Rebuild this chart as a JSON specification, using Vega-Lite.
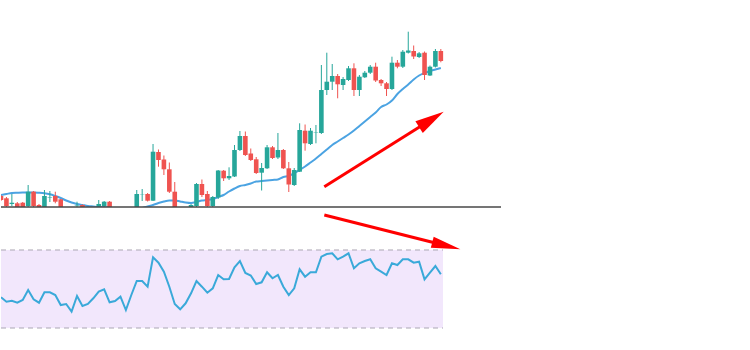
{
  "$schema": "https://vega.github.io/schema/vega-lite/v6.json",
  "padding": 0,
  "background": "white",
  "spacing": 0,
  "bounds": "flush",
  "config": {"view": {"stroke": null}},
  "resolve": {"scale": {"x": "independent", "y": "independent"}},
  "datasets": {
    "bars": [
      {"i":0,"open":105.5,"high":106,"low":103,"close":103.5,"ma":106,"rsi":45.74},
      {"i":1,"open":104.35,"high":105,"low":100,"close":100.5,"ma":106.5,"rsi":43.49},
      {"i":2,"open":101.5,"high":106.5,"low":100.5,"close":102.15,"ma":107,"rsi":44.0},
      {"i":3,"open":101.85,"high":102.5,"low":98.5,"close":99.5,"ma":107.15,"rsi":42.97},
      {"i":4,"open":102.15,"high":102.5,"low":99,"close":100,"ma":107.25,"rsi":44.36},
      {"i":5,"open":100.5,"high":111,"low":100,"close":107.65,"ma":107.25,"rsi":49.49},
      {"i":6,"open":107.65,"high":108,"low":100,"close":100.5,"ma":107.25,"rsi":44.72},
      {"i":7,"open":101,"high":101.5,"low":98.5,"close":99.5,"ma":107.1,"rsi":42.97},
      {"i":8,"open":100,"high":108.5,"low":99.5,"close":105.5,"ma":106.85,"rsi":48.31},
      {"i":9,"open":104.75,"high":108,"low":102.5,"close":105,"ma":106.35,"rsi":48.31},
      {"i":10,"open":105.5,"high":107.65,"low":101.85,"close":102.65,"ma":105.5,"rsi":46.92},
      {"i":11,"open":103.85,"high":104,"low":98.5,"close":99.5,"ma":104.5,"rsi":41.79},
      {"i":12,"open":99,"high":99.5,"low":96.5,"close":97.5,"ma":103.25,"rsi":42.31},
      {"i":13,"open":97,"high":99,"low":96,"close":98.5,"ma":102.25,"rsi":38.36},
      {"i":14,"open":100.5,"high":102.65,"low":99,"close":100.75,"ma":101.5,"rsi":46.41},
      {"i":15,"open":101,"high":101.25,"low":98.5,"close":99.5,"ma":101,"rsi":41.28},
      {"i":16,"open":99.5,"high":99.75,"low":97,"close":98,"ma":100.5,"rsi":42.31},
      {"i":17,"open":97.5,"high":99.5,"low":97,"close":99,"ma":100.25,"rsi":45.23},
      {"i":18,"open":100.15,"high":103.5,"low":99.5,"close":101.5,"ma":100,"rsi":48.62},
      {"i":19,"open":100.5,"high":103,"low":99.75,"close":102.65,"ma":100,"rsi":49.85},
      {"i":20,"open":102.65,"high":103,"low":98.5,"close":99.5,"ma":99.75,"rsi":43.18},
      {"i":21,"open":99.5,"high":99.75,"low":96.5,"close":97.5,"ma":99.25,"rsi":43.85},
      {"i":22,"open":97,"high":99.5,"low":96,"close":98.75,"ma":98.75,"rsi":46.05},
      {"i":23,"open":98.5,"high":99.5,"low":96,"close":97,"ma":98.5,"rsi":39.23},
      {"i":24,"open":97,"high":99.75,"low":96.5,"close":99.5,"ma":98.5,"rsi":46.92},
      {"i":25,"open":99.5,"high":108.5,"low":99,"close":106.5,"ma":99,"rsi":54.1},
      {"i":26,"open":106.35,"high":109,"low":103,"close":106.5,"ma":99.5,"rsi":54.1},
      {"i":27,"open":106.5,"high":107,"low":102.75,"close":103.15,"ma":100.25,"rsi":51.18},
      {"i":28,"open":103.15,"high":131.5,"low":103,"close":127.65,"ma":101,"rsi":66.26},
      {"i":29,"open":127.5,"high":128.75,"low":120.15,"close":123.5,"ma":102,"rsi":63.49},
      {"i":30,"open":123.75,"high":125.75,"low":116,"close":118.85,"ma":102.75,"rsi":58.87},
      {"i":31,"open":118.85,"high":122.25,"low":107,"close":107.65,"ma":103.25,"rsi":51.18},
      {"i":32,"open":107.65,"high":112.5,"low":96.5,"close":97.5,"ma":103.25,"rsi":42.31},
      {"i":33,"open":97.5,"high":99,"low":95.5,"close":96.5,"ma":102.75,"rsi":39.59},
      {"i":34,"open":96.5,"high":99.5,"low":96,"close":98.5,"ma":102.25,"rsi":42.67},
      {"i":35,"open":99.5,"high":101.5,"low":99,"close":101,"ma":102,"rsi":47.79},
      {"i":36,"open":100.5,"high":112,"low":99.5,"close":111.5,"ma":102.5,"rsi":54.1},
      {"i":37,"open":111.5,"high":113.75,"low":105,"close":106,"ma":103.25,"rsi":51.18},
      {"i":38,"open":106.5,"high":108,"low":100,"close":100.5,"ma":103.5,"rsi":48.1},
      {"i":39,"open":100.5,"high":105.5,"low":99.75,"close":105,"ma":104,"rsi":50.36},
      {"i":40,"open":104.75,"high":118.5,"low":104,"close":118.25,"ma":105,"rsi":57.18},
      {"i":41,"open":118.15,"high":118.5,"low":113,"close":114.35,"ma":106,"rsi":54.97},
      {"i":42,"open":114.35,"high":119.85,"low":113.5,"close":115.5,"ma":107.75,"rsi":55.13},
      {"i":43,"open":115.25,"high":131,"low":115,"close":128.5,"ma":109.25,"rsi":61.13},
      {"i":44,"open":128.5,"high":138,"low":128,"close":135.5,"ma":110.5,"rsi":64.36},
      {"i":45,"open":135.5,"high":137.75,"low":125.5,"close":126,"ma":111,"rsi":58.21},
      {"i":46,"open":126.75,"high":129.25,"low":123,"close":123.5,"ma":111.75,"rsi":56.92},
      {"i":47,"open":123.85,"high":125,"low":116.5,"close":117,"ma":112.75,"rsi":52.56},
      {"i":48,"open":117.15,"high":122,"low":108.25,"close":119.5,"ma":113,"rsi":53.44},
      {"i":49,"open":119.35,"high":131,"low":119,"close":129.85,"ma":113.25,"rsi":58.56},
      {"i":50,"open":129.85,"high":130.5,"low":124,"close":124.5,"ma":113.5,"rsi":55.49},
      {"i":51,"open":124.75,"high":137,"low":124,"close":128.5,"ma":113.75,"rsi":57.18},
      {"i":52,"open":128.5,"high":129,"low":119,"close":119.35,"ma":115,"rsi":51.18},
      {"i":53,"open":119.35,"high":122.5,"low":107.5,"close":111.25,"ma":115.5,"rsi":46.92},
      {"i":54,"open":111,"high":119.5,"low":110.5,"close":118.5,"ma":117,"rsi":50.36},
      {"i":55,"open":117.65,"high":141.85,"low":117.5,"close":138.5,"ma":118.5,"rsi":60.1},
      {"i":56,"open":138.15,"high":141.25,"low":128.15,"close":131.85,"ma":120.25,"rsi":56.31},
      {"i":57,"open":131.5,"high":139.5,"low":131,"close":138.15,"ma":122.25,"rsi":58.56},
      {"i":58,"open":137.15,"high":141,"low":131.85,"close":137.35,"ma":124.25,"rsi":58.56},
      {"i":59,"open":137,"high":171,"low":136.5,"close":158.5,"ma":126.5,"rsi":66.56},
      {"i":60,"open":158.5,"high":177.15,"low":156,"close":162.65,"ma":128.75,"rsi":67.95},
      {"i":61,"open":162.65,"high":171.5,"low":158.5,"close":165.5,"ma":131,"rsi":68.31},
      {"i":62,"open":165.5,"high":166.5,"low":154.35,"close":161.35,"ma":132.75,"rsi":65.23},
      {"i":63,"open":161,"high":165,"low":158.5,"close":164,"ma":134.5,"rsi":66.56},
      {"i":64,"open":163.5,"high":170.5,"low":163,"close":169.35,"ma":136.25,"rsi":68.31},
      {"i":65,"open":169.35,"high":171.85,"low":155.5,"close":158.5,"ma":138.25,"rsi":60.62},
      {"i":66,"open":158.5,"high":166,"low":155.5,"close":165.15,"ma":140.5,"rsi":63.18},
      {"i":67,"open":164.85,"high":168,"low":164.5,"close":167.15,"ma":142.75,"rsi":64.36},
      {"i":68,"open":167.15,"high":171,"low":166.5,"close":170.15,"ma":145,"rsi":65.23},
      {"i":69,"open":170.15,"high":172.15,"low":162.5,"close":163.25,"ma":147.25,"rsi":60.62},
      {"i":70,"open":163.5,"high":164,"low":160.5,"close":161.85,"ma":150,"rsi":58.87},
      {"i":71,"open":161.85,"high":162.5,"low":155.5,"close":159,"ma":151.25,"rsi":57.18},
      {"i":72,"open":159,"high":175.15,"low":158.5,"close":172.15,"ma":153.25,"rsi":63.18},
      {"i":73,"open":172.15,"high":173.5,"low":169.35,"close":170.15,"ma":156.5,"rsi":62.31},
      {"i":74,"open":170.15,"high":178.5,"low":169.5,"close":177.65,"ma":159,"rsi":65.23},
      {"i":75,"open":177.15,"high":187.65,"low":176.75,"close":178.25,"ma":161.25,"rsi":65.23},
      {"i":76,"open":178,"high":180.75,"low":174,"close":175.25,"ma":163.75,"rsi":63.49},
      {"i":77,"open":175,"high":177.5,"low":174.5,"close":176.85,"ma":165.75,"rsi":64.0},
      {"i":78,"open":177.15,"high":177.75,"low":163.5,"close":166,"ma":167,"rsi":54.97},
      {"i":79,"open":165.75,"high":170.75,"low":165.5,"close":170.15,"ma":168,"rsi":58.36},
      {"i":80,"open":170.15,"high":179,"low":169.75,"close":178,"ma":168.75,"rsi":61.79},
      {"i":81,"open":178,"high":179,"low":172.35,"close":173,"ma":169.5,"rsi":57.54}
    ],
    "arrowUp": [{"x0":59.54,"y0":110.15,"x1":79.26,"y1":143.8}],
    "arrowDown": [{"x0":59.54,"y0":87.95,"x1":82.01,"y1":72.15}],
    "band": [{"x0":0,"x1":81.4,"lo":30,"hi":70}],
    "levels": [{"x0":0,"x1":81.4,"lvl":70},{"x0":0,"x1":81.4,"lvl":30}],
    "base": [{"x0":0,"x1":92.08,"lvl":100}]
  },
  "vconcat": [
    {
      "width": 543,
      "height": 207,
      "layer": [
        {
          "data": {"name": "bars"},
          "mark": {"type": "line", "color": "#4BA3E2", "strokeWidth": 2, "clip": true, "interpolate": "monotone"},
          "encoding": {
            "x": {"field": "i", "type": "quantitative", "scale": {"domain": [0, 100], "nice": false, "zero": false, "padding": 0}, "axis": null},
            "y": {"field": "ma", "type": "quantitative", "scale": {"domain": [100, 203.5], "nice": false, "zero": false}, "axis": null}
          }
        },
        {
          "data": {"name": "bars"},
          "mark": {"type": "rule", "strokeWidth": 1, "clip": true},
          "encoding": {
            "x": {"field": "i", "type": "quantitative", "scale": {"domain": [0, 100], "nice": false, "zero": false, "padding": 0}, "axis": null},
            "y": {"field": "low", "type": "quantitative", "scale": {"domain": [100, 203.5], "nice": false, "zero": false}, "axis": null},
            "y2": {"field": "high"},
            "color": {"condition": {"test": "datum.close >= datum.open", "value": "#26A69A"}, "value": "#EF5350"}
          }
        },
        {
          "data": {"name": "bars"},
          "mark": {"type": "bar", "size": 4.6, "clip": true},
          "encoding": {
            "x": {"field": "i", "type": "quantitative", "scale": {"domain": [0, 100], "nice": false, "zero": false, "padding": 0}, "axis": null},
            "y": {"field": "open", "type": "quantitative", "scale": {"domain": [100, 203.5], "nice": false, "zero": false}, "axis": null},
            "y2": {"field": "close"},
            "color": {"condition": {"test": "datum.close >= datum.open", "value": "#26A69A"}, "value": "#EF5350"}
          }
        },
        {
          "data": {"name": "base"},
          "mark": {"type": "rule", "color": "#474747", "strokeWidth": 1.3},
          "encoding": {
            "x": {"field": "x0", "type": "quantitative", "scale": {"domain": [0, 100], "nice": false, "zero": false, "padding": 0}, "axis": null},
            "x2": {"field": "x1"},
            "y": {"field": "lvl", "type": "quantitative", "scale": {"domain": [100, 203.5], "nice": false, "zero": false}, "axis": null}
          }
        },
        {
          "data": {"name": "arrowUp"},
          "mark": {"type": "rule", "color": "#FF0000", "strokeWidth": 3},
          "encoding": {
            "x": {"field": "x0", "type": "quantitative", "scale": {"domain": [0, 100], "nice": false, "zero": false, "padding": 0}, "axis": null},
            "y": {"field": "y0", "type": "quantitative", "scale": {"domain": [100, 203.5], "nice": false, "zero": false}, "axis": null},
            "x2": {"field": "x1"},
            "y2": {"field": "y1"}
          }
        },
        {
          "data": {"name": "arrowUp"},
          "mark": {"type": "point", "filled": true, "opacity": 1, "color": "#FF0000", "strokeWidth": 0, "shape": "M0,-1L0.48,1L-0.48,1Z", "size": 841, "angle": 57.9},
          "encoding": {
            "x": {"field": "x1", "type": "quantitative", "scale": {"domain": [0, 100], "nice": false, "zero": false, "padding": 0}, "axis": null},
            "y": {"field": "y1", "type": "quantitative", "scale": {"domain": [100, 203.5], "nice": false, "zero": false}, "axis": null}
          }
        }
      ]
    },
    {
      "width": 543,
      "height": 143,
      "layer": [
        {
          "data": {"name": "band"},
          "mark": {"type": "rect", "color": "#F2E7FC"},
          "encoding": {
            "x": {"field": "x0", "type": "quantitative", "scale": {"domain": [0, 100], "nice": false, "zero": false, "padding": 0}, "axis": null},
            "x2": {"field": "x1"},
            "y": {"field": "lo", "type": "quantitative", "scale": {"domain": [18.72, 92.05], "nice": false, "zero": false}, "axis": null},
            "y2": {"field": "hi"}
          }
        },
        {
          "data": {"name": "levels"},
          "mark": {"type": "rule", "color": "#ABA6B4", "strokeWidth": 1, "strokeDash": [5, 4]},
          "encoding": {
            "x": {"field": "x0", "type": "quantitative", "scale": {"domain": [0, 100], "nice": false, "zero": false, "padding": 0}, "axis": null},
            "x2": {"field": "x1"},
            "y": {"field": "lvl", "type": "quantitative", "scale": {"domain": [18.72, 92.05], "nice": false, "zero": false}, "axis": null}
          }
        },
        {
          "data": {"name": "bars"},
          "mark": {"type": "line", "color": "#3AA9D9", "strokeWidth": 2, "clip": true},
          "encoding": {
            "x": {"field": "i", "type": "quantitative", "scale": {"domain": [0, 100], "nice": false, "zero": false, "padding": 0}, "axis": null},
            "y": {"field": "rsi", "type": "quantitative", "scale": {"domain": [18.72, 92.05], "nice": false, "zero": false}, "axis": null}
          }
        },
        {
          "data": {"name": "arrowDown"},
          "mark": {"type": "rule", "color": "#FF0000", "strokeWidth": 3},
          "encoding": {
            "x": {"field": "x0", "type": "quantitative", "scale": {"domain": [0, 100], "nice": false, "zero": false, "padding": 0}, "axis": null},
            "y": {"field": "y0", "type": "quantitative", "scale": {"domain": [18.72, 92.05], "nice": false, "zero": false}, "axis": null},
            "x2": {"field": "x1"},
            "y2": {"field": "y1"}
          }
        },
        {
          "data": {"name": "arrowDown"},
          "mark": {"type": "point", "filled": true, "opacity": 1, "color": "#FF0000", "strokeWidth": 0, "shape": "M0,-1L0.4,1L-0.4,1Z", "size": 841, "angle": 104.2},
          "encoding": {
            "x": {"field": "x1", "type": "quantitative", "scale": {"domain": [0, 100], "nice": false, "zero": false, "padding": 0}, "axis": null},
            "y": {"field": "y1", "type": "quantitative", "scale": {"domain": [18.72, 92.05], "nice": false, "zero": false}, "axis": null}
          }
        }
      ]
    }
  ]
}
